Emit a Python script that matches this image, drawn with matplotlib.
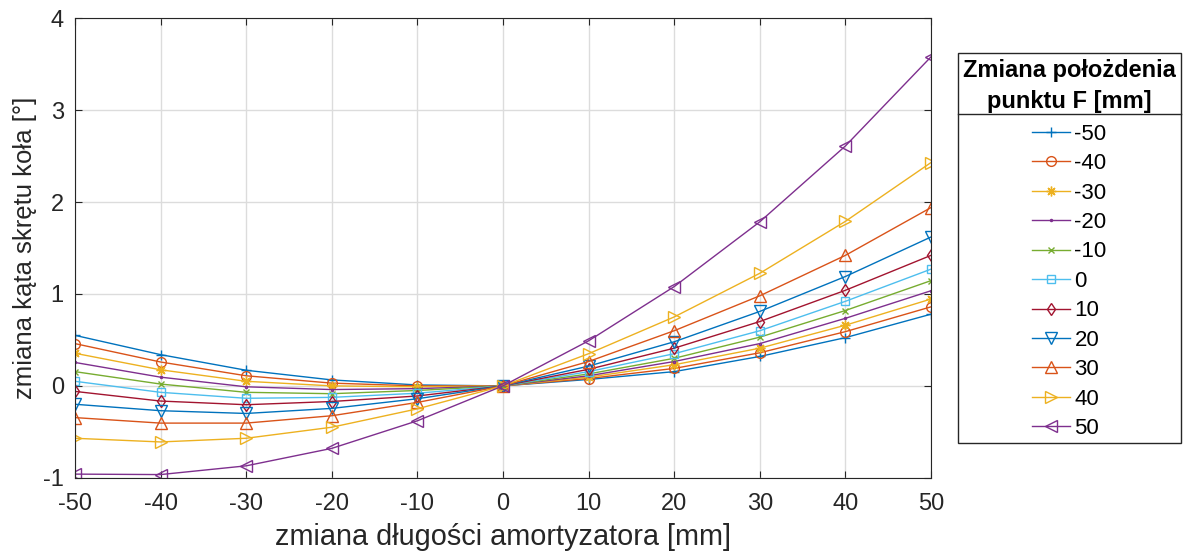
import matplotlib
matplotlib.use('Agg')
import matplotlib.pyplot as plt
from matplotlib.patches import Rectangle
from matplotlib.lines import Line2D

plt.rcParams['font.family'] = ['Liberation Sans', 'DejaVu Sans']
plt.rcParams['axes.unicode_minus'] = False

x = [-50, -40, -30, -20, -10, 0, 10, 20, 30, 40, 50]
series_labels = ['-50', '-40', '-30', '-20', '-10', '0', '10', '20', '30', '40', '50']

# zmiana kąta skrętu koła dla kolejnych położeń punktu F
s_m50 = [0.55, 0.34, 0.17, 0.065, 0.01, 0, 0.07, 0.155, 0.32, 0.525, 0.78]
s_m40 = [0.46, 0.26, 0.11, 0.03, 0.0, 0, 0.08, 0.19, 0.36, 0.59, 0.86]
s_m30 = [0.355, 0.175, 0.05, 0.0, -0.01, 0, 0.095, 0.23, 0.41, 0.66, 0.945]
s_m20 = [0.255, 0.095, -0.01, -0.04, -0.03, 0, 0.11, 0.265, 0.46, 0.735, 1.035]
s_m10 = [0.155, 0.02, -0.07, -0.085, -0.05, 0, 0.13, 0.30, 0.53, 0.82, 1.145]
s_0 = [0.05, -0.07, -0.135, -0.125, -0.08, 0, 0.155, 0.35, 0.60, 0.92, 1.27]
s_10 = [-0.06, -0.165, -0.205, -0.17, -0.11, 0, 0.18, 0.41, 0.70, 1.04, 1.42]
s_20 = [-0.20, -0.27, -0.30, -0.245, -0.14, 0, 0.215, 0.48, 0.81, 1.19, 1.62]
s_30 = [-0.345, -0.405, -0.405, -0.325, -0.18, 0, 0.265, 0.60, 0.98, 1.42, 1.94]
s_40 = [-0.57, -0.61, -0.57, -0.45, -0.25, 0, 0.35, 0.75, 1.225, 1.79, 2.43]
s_50 = [-0.96, -0.965, -0.87, -0.68, -0.38, 0, 0.49, 1.08, 1.785, 2.61, 3.58]

all_series = [s_m50, s_m40, s_m30, s_m20, s_m10, s_0, s_10, s_20, s_30, s_40, s_50]
colors = ['#0072BD', '#D95319', '#EDB120', '#7E2F8E', '#77AC30', '#4DBEEE',
          '#A2142F', '#0072BD', '#D95319', '#EDB120', '#7E2F8E']
markers = ['+', 'o', (8, 2, 0), '.', 'x', 's', 'd', 'v', '^', '>', '<']
msizes = [7, 7, 7, 3, 5, 6, 6, 8, 8, 8, 8]

fig = plt.figure(figsize=(11.89, 5.53), dpi=100)
ax = fig.add_axes([0.063, 0.136, 0.72, 0.831])

for ys, c, m, ms, lab in zip(all_series, colors, markers, msizes, series_labels):
    ax.plot(x, ys, color=c, marker=m, markersize=ms, markerfacecolor='none',
            markeredgewidth=1.0, linewidth=1.0, label=lab)

ax.set_xlim(-50, 50)
ax.set_ylim(-1, 4)
ax.set_xticks(range(-50, 51, 10))
ax.set_yticks(range(-1, 5))
ax.grid(True, color='#dcdcdc', linewidth=1.0)
ax.set_axisbelow(True)
ax.tick_params(direction='in', top=True, right=True, labelsize=17,
               colors='#262626', length=5)
ax.tick_params(axis='x', pad=11)
ax.tick_params(axis='y', pad=8)
for sp in ax.spines.values():
    sp.set_color('#262626')
ax.set_xlabel('zmiana długości amortyzatora [mm]', fontsize=20.8, color='#262626',
              labelpad=6)
ax.set_ylabel('zmiana kąta skrętu koła [°]', fontsize=18.5, color='#262626',
              labelpad=4)

# legend box
bx0, bx1 = 958 / 1189, 1181 / 1189
by0, by1 = 1 - 443 / 553, 1 - 52.7 / 553
fig.add_artist(Rectangle((bx0, by0), bx1 - bx0, by1 - by0, transform=fig.transFigure,
                         fill=False, edgecolor='#262626', linewidth=1.0))
ysep = 1 - 114 / 553
fig.add_artist(Line2D([bx0, bx1], [ysep, ysep], transform=fig.transFigure,
                      color='#262626', linewidth=1.0))
leg = ax.legend(loc='upper center', bbox_to_anchor=((bx0 + bx1) / 2, by1 + 0.016),
                bbox_transform=fig.transFigure, frameon=False, fontsize=16,
                title='Zmiana położdenia\npunktu F [mm]',
                title_fontproperties={'weight': 'bold', 'size': 17},
                handlelength=1.7, handletextpad=0.2, labelspacing=0.38,
                borderpad=0.2)
leg.get_title().set_multialignment('center')
leg.get_title().set_linespacing(1.4)
leg._legend_box.sep = 8

fig.savefig('out.png', dpi=100)
